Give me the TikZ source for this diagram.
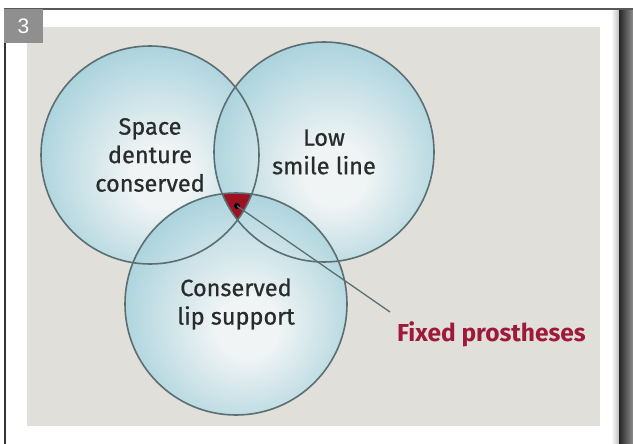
\documentclass[tikz,border=0pt]{standalone}
\usepackage{fontspec}
\setmainfont{Fira Sans}
\newfontfamily\setfont[FakeBold=0.7]{Fira Sans}
\newfontfamily\badgefont{Liberation Sans}
\usepackage{tikz}
\usetikzlibrary{positioning}

\definecolor{panelgray}{HTML}{E1DFDA}
\definecolor{bubblein}{HTML}{F0F4F4}
\definecolor{bubbleout}{HTML}{ABD3DD}
\definecolor{rimgray}{HTML}{5B6F72}
\definecolor{inkgray}{HTML}{2A2C2C}
\definecolor{prosred}{HTML}{9C1222}
\definecolor{labelred}{HTML}{9E1A3A}
\definecolor{framegray}{HTML}{585858}
\definecolor{badgegray}{HTML}{8F8F8F}

% soft highlight a little below the middle of each circle
\pgfdeclareradialshading{bubble}{\pgfpoint{3bp}{-6bp}}{%
  color(0bp)=(bubblein); color(7bp)=(bubblein);
  color(28bp)=(bubbleout); color(50bp)=(bubbleout)}

\tikzstyle{bubble} = [
  circle, inner sep=0pt, shade, shading=bubble,
  align=center, text=inkgray,
  font=\setfont\fontsize{23.5}{28.5}\selectfont
]
\tikzstyle{rim} = [draw=rimgray, line width=1.6pt]
\tikzstyle{leader} = [draw=rimgray, line width=1.3pt]
\tikzstyle{callout} = [
  inner sep=0pt, text=labelred,
  font=\fontsize{24.5}{28}\selectfont\bfseries
]
\tikzstyle{badge} = [
  fill=badgegray, text=white, inner sep=0pt,
  minimum width=38.5pt, minimum height=34pt,
  font=\badgefont\fontsize{21}{21}\selectfont
]

\begin{document}
\begin{tikzpicture}[x=1pt, y=-1pt]

  % page, frame and panel
  \fill[white] (0,0) rectangle (633,444);
  \useasboundingbox (0,0) rectangle (633,444);
  \shade[left color=white, right color=black!25] (611,10) rectangle (619,444);
  \shade[left color=black!85, right color=black!45] (619,10) rectangle (633,444);
  \draw[framegray, line width=1.8pt] (4,9) -- (633,9);
  \draw[black!80, line width=1.4pt] (5,9) -- (5,444);
  \fill[panelgray] (27,27) rectangle (600,426);

  \node[badge] (num) at (23.5,26) {3};

  % the three sets
  \node[bubble, minimum size=218pt] (space) at (150,155) {Space\\denture\\conserved};
  \node[bubble, minimum size=220pt] (smile) at (324,152) {Low\\smile line};
  \node[bubble, minimum size=222pt] (lip) at (236,304) {Conserved\\lip support};

  % where all three meet
  \begin{scope}
    \clip (space.center) circle (109);
    \clip (smile.center) circle (110);
    \fill[prosred] (lip.center) circle (111);
  \end{scope}

  \draw[rim] (space.center) circle (109);
  \draw[rim] (smile.center) circle (110);
  \draw[rim] (lip.center) circle (111);

  \node[circle, fill=black, inner sep=0pt, minimum size=6pt] (core) at (237,206) {};
  \coordinate (tip) at (390,312);
  \node[callout, anchor=base west] (fixed) at (397,341) {Fixed prostheses};

  \draw[leader] (core.center) -- (tip);

\end{tikzpicture}
\end{document}
